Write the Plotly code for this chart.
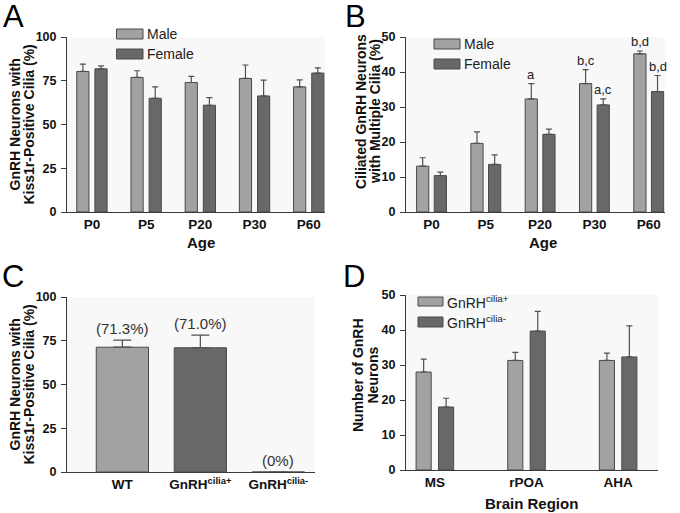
import plotly.graph_objects as go

W, H = 680, 513

# ---------------- data ----------------
ages = ["P0", "P5", "P20", "P30", "P60"]

kiss_male = [80.3, 76.9, 74.0, 76.3, 71.5]
kiss_male_err = [4.2, 3.8, 3.5, 7.7, 4.0]
kiss_female = [81.8, 65.0, 61.0, 66.3, 79.4]
kiss_female_err = [1.7, 6.5, 4.3, 9.0, 3.0]

multi_male = [13.1, 19.6, 32.3, 36.7, 45.2]
multi_male_err = [2.4, 3.3, 4.4, 4.0, 0.8]
multi_female = [10.4, 13.6, 22.2, 30.6, 34.4]
multi_female_err = [1.0, 2.7, 1.5, 1.7, 4.6]
sig_male = ["", "", "a", "b,c", "b,d"]
sig_female = ["", "", "", "a,c", "b,d"]

groups_c = ["WT", "GnRH<sup>cilia+</sup>", "GnRH<sup>cilia-</sup>"]
kiss_c = [71.3, 71.0, 0.0]
kiss_c_err = [4.0, 7.2, 0.0]
kiss_c_labels = ["(71.3%)", "(71.0%)", "(0%)"]

regions = ["MS", "rPOA", "AHA"]
count_pos = [28.0, 31.3, 31.3]
count_pos_err = [3.7, 2.3, 2.1]
count_neg = [18.0, 39.7, 32.3]
count_neg_err = [2.5, 5.6, 8.9]

# ---------------- style ----------------
LIGHT = "#a2a2a2"
DARK = "#686868"
EDGE = "#4a4a4a"
ERRC = "#505050"
AX = "#3a3a3a"
FONT = "Liberation Sans, Arial, sans-serif"


def px(x):
    return x / W


def py(y):
    return 1 - y / H


fig = go.Figure()


def add_bars(xa, ya, xs, ys, errs, color, offset, width):
    fig.add_trace(go.Bar(
        x=xs, y=ys, xaxis=xa, yaxis=ya,
        marker=dict(color=color, line=dict(color=EDGE, width=1)),
        offset=offset, width=width,
        error_y=dict(type="data", array=errs, arrayminus=[0] * len(errs),
                     symmetric=False, color=ERRC, thickness=1.2, width=3),
        showlegend=False, hoverinfo="skip",
    ))


ia = list(range(len(ages)))
# Panel A
add_bars("x", "y", ia, kiss_male, kiss_male_err, LIGHT, -0.28, 0.225)
add_bars("x", "y", ia, kiss_female, kiss_female_err, DARK, 0.055, 0.225)
# Panel B
add_bars("x2", "y2", ia, multi_male, multi_male_err, LIGHT, -0.275, 0.225)
add_bars("x2", "y2", ia, multi_female, multi_female_err, DARK, 0.05, 0.225)
# Panel C
ic = list(range(len(groups_c)))
fig.add_trace(go.Bar(
    x=ic, y=kiss_c, xaxis="x3", yaxis="y3",
    marker=dict(color=[LIGHT, DARK, DARK], line=dict(color=EDGE, width=1)),
    width=0.67,
    error_y=dict(type="data", array=kiss_c_err, arrayminus=[0] * 3,
                 symmetric=False, color=ERRC, thickness=1.2, width=9),
    showlegend=False, hoverinfo="skip",
))
# Panel D
idd = list(range(len(regions)))
add_bars("x4", "y4", idd, count_pos, count_pos_err, LIGHT, -0.205, 0.165)
add_bars("x4", "y4", idd, count_neg, count_neg_err, DARK, 0.04, 0.165)

# ---------------- axes ----------------
tickfont = dict(family=FONT, size=12.5, color="#111", weight="bold")
xtickfont = dict(family=FONT, size=13.5, color="#111", weight="bold")


def yax(dom_px, rng, dtick, anchor):
    return dict(domain=[py(dom_px[0]), py(dom_px[1])], range=rng, dtick=dtick,
                anchor=anchor, showgrid=False, zeroline=False, automargin=False,
                showline=True, linecolor=AX, linewidth=1,
                ticks="outside", ticklen=5, tickcolor=AX, tickwidth=1,
                tickfont=tickfont, ticklabelstandoff=2, fixedrange=True)


def xax(dom_px, rng, tickvals, ticktext, anchor):
    return dict(domain=[px(dom_px[0]), px(dom_px[1])], range=rng,
                tickvals=tickvals, ticktext=ticktext, anchor=anchor, automargin=False,
                showgrid=False, zeroline=False, showline=True, linecolor=AX,
                linewidth=1, ticks="", tickfont=xtickfont, fixedrange=True)


fig.update_layout(
    width=W, height=H, autosize=False,
    margin=dict(l=0, r=0, t=0, b=0, pad=0, autoexpand=False),
    paper_bgcolor="white", plot_bgcolor="#f8f8f8",
    font=dict(family=FONT, color="#111"),
    barmode="overlay",
    xaxis=xax((67, 325), [-0.46, 4.3], ia, ages, "y"),
    yaxis=yax((212, 37), [0, 100], 25, "x"),
    xaxis2=xax((406, 665), [-0.47, 4.3], ia, ages, "y2"),
    yaxis2=yax((212, 37), [0, 50], 10, "x2"),
    xaxis3=xax((67, 315), [-0.71, 2.47], ic, groups_c, "y3"),
    yaxis3=yax((472, 297), [0, 100], 25, "x3"),
    xaxis4=xax((406, 658), [-0.315, 2.435], idd, regions, "y4"),
    yaxis4=yax((470, 295), [0, 50], 10, "x4"),
)

ann = []
# Panel letters
for letter, x, y in [("A", 1, 16), ("B", 343, 16), ("C", 0, 276), ("D", 341, 276)]:
    ann.append(dict(text=letter, x=px(x), y=py(y), xref="paper", yref="paper",
                    xanchor="left", yanchor="middle", showarrow=False,
                    font=dict(family=FONT, size=31, color="#000")))

# Y axis titles, one annotation per line
ytf = dict(family=FONT, size=14, color="#111", weight="bold")
for text, x, ymid in [
    ("GnRH Neurons with", 14.5, 125), ("Kiss1r-Positive Cilia (%)", 28.5, 125),
    ("Ciliated GnRH Neurons", 361, 112), ("with Multiple Cilia (%)", 375, 112),
    ("GnRH Neurons with", 14.5, 385), ("Kiss1r-Positive Cilia (%)", 28.5, 385),
    ("Number of GnRH", 358, 375), ("Neurons", 372.5, 375),
]:
    ann.append(dict(text=text, x=px(x), y=py(ymid), xref="paper", yref="paper",
                    xanchor="center", yanchor="middle", textangle=-90,
                    showarrow=False, font=ytf))

# X axis titles
xtf = dict(family=FONT, size=15, color="#111", weight="bold")
for text, x, y in [("Age", 201, 243), ("Age", 543, 243), ("Brain Region", 531, 503)]:
    ann.append(dict(text=text, x=px(x), y=py(y), xref="paper", yref="paper",
                    xanchor="center", yanchor="middle", showarrow=False, font=xtf))

# Significance letters (panel B)
sfont = dict(family=FONT, size=13, color="#222")
for i in ia:
    if sig_male[i]:
        ann.append(dict(text=sig_male[i], x=i - 0.16, y=multi_male[i] + multi_male_err[i],
                        xref="x2", yref="y2", xanchor="center", yanchor="bottom",
                        showarrow=False, font=sfont, yshift=0))
    if sig_female[i]:
        ann.append(dict(text=sig_female[i], x=i + 0.165, y=multi_female[i] + multi_female_err[i],
                        xref="x2", yref="y2", xanchor="center", yanchor="bottom",
                        showarrow=False, font=sfont, yshift=0))

# Percentage labels (panel C)
cfont = dict(family=FONT, size=15, color="#333")
for i in ic:
    ann.append(dict(text=kiss_c_labels[i], x=i, y=kiss_c[i] + kiss_c_err[i],
                    xref="x3", yref="y3", xanchor="center", yanchor="bottom",
                    showarrow=False, font=cfont, yshift=1))

# Custom legends (wide swatches)
shapes = []
lfont = dict(family=FONT, size=14, color="#222")
legends = [
    (116.5, 143, [(29, 39, LIGHT, "Male"), (49, 59, DARK, "Female")]),
    (434, 460, [(39, 49, LIGHT, "Male"), (59, 69, DARK, "Female")]),
    (418, 443, [(297, 306, LIGHT, "GnRH<sup>cilia+</sup>"), (317, 327, DARK, "GnRH<sup>cilia-</sup>")]),
]
for x0, x1, items in legends:
    for y0, y1, col, lab in items:
        shapes.append(dict(type="rect", xref="paper", yref="paper",
                           x0=px(x0), x1=px(x1), y0=py(y1), y1=py(y0),
                           fillcolor=col, line=dict(color=EDGE, width=1)))
        ann.append(dict(text=lab, x=px(x1 + 2), y=py((y0 + y1) / 2), xref="paper",
                        yref="paper", xanchor="left", yanchor="middle",
                        showarrow=False, font=lfont))

fig.update_layout(annotations=ann, shapes=shapes)
fig.write_html("out.html", config={"displayModeBar": False, "responsive": False},
               post_script="document.body.style.margin='0';document.body.style.overflow='hidden';")
